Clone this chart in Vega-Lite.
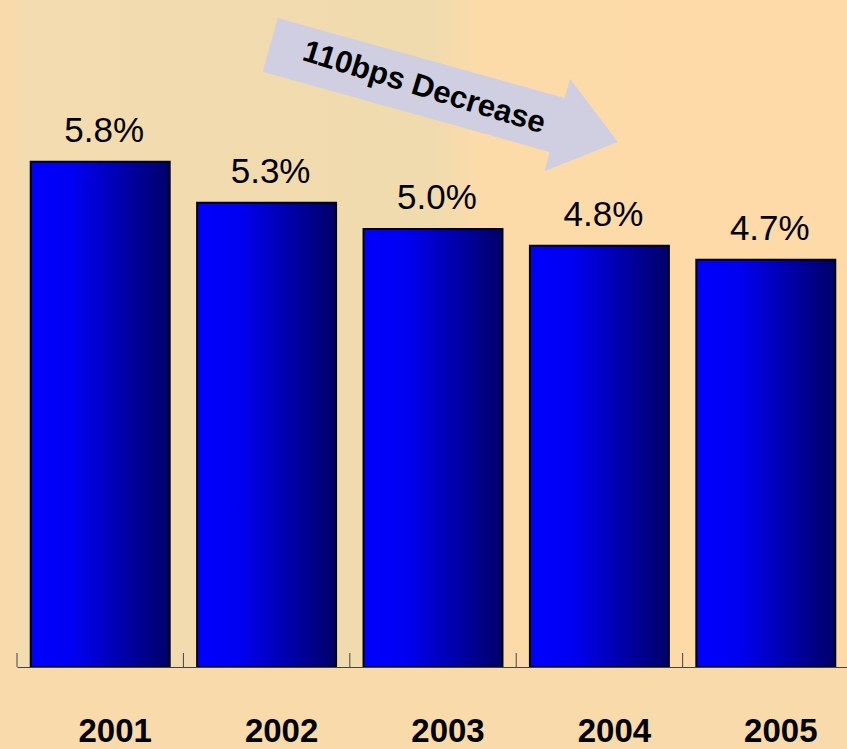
{
  "$schema": "https://vega.github.io/schema/vega-lite/v6.json",
  "width": 832,
  "height": 667,
  "autosize": {"type": "none"},
  "padding": {"left": 17, "top": 0, "right": 0, "bottom": 82},
  "background": "#F8DAAB",
  "config": {
    "font": "Liberation Sans",
    "view": {
      "stroke": null,
      "fill": {
        "gradient": "linear",
        "x1": 0, "y1": 0, "x2": 1, "y2": 0,
        "stops": [
          {"offset": 0, "color": "#F3DCAF"},
          {"offset": 0.5, "color": "#F0DBAE"},
          {"offset": 0.56, "color": "#FDDBA9"},
          {"offset": 1, "color": "#FDDAA8"}
        ]
      }
    }
  },
  "data": {
    "values": [
      {"year": "2001", "rate": 0.0578},
      {"year": "2002", "rate": 0.0531},
      {"year": "2003", "rate": 0.0501},
      {"year": "2004", "rate": 0.0482},
      {"year": "2005", "rate": 0.0466}
    ]
  },
  "encoding": {
    "x": {
      "field": "year",
      "type": "ordinal",
      "scale": {"paddingInner": 0.165, "paddingOuter": 0.0825},
      "axis": {
        "title": null,
        "domainColor": "#444444",
        "domainWidth": 1,
        "ticks": false,
        "zindex": 1,
        "labelFont": "Liberation Sans",
        "labelFontSize": 33,
        "labelFontWeight": "bold",
        "labelColor": "#000000",
        "labelAngle": 0,
        "labelBaseline": "alphabetic",
        "labelPadding": 74,
        "labelOffset": 15
      }
    }
  },
  "layer": [
    {
      "mark": {
        "type": "bar",
        "fill": {
          "gradient": "linear",
          "x1": 0, "y1": 0, "x2": 1, "y2": 0,
          "stops": [
            {"offset": 0, "color": "#0000FF"},
            {"offset": 0.3, "color": "#0000F2"},
            {"offset": 1, "color": "#000068"}
          ]
        },
        "stroke": "#000000",
        "strokeWidth": 2
      },
      "encoding": {
        "y": {
          "field": "rate",
          "type": "quantitative",
          "scale": {"domain": [0, 0.0763], "nice": false},
          "axis": null
        }
      }
    },
    {
      "mark": {"type": "rule", "color": "#444444", "strokeWidth": 1, "xOffset": -13.7},
      "encoding": {
        "x": {"field": "year", "type": "ordinal", "bandPosition": 0},
        "y": {"datum": 0},
        "y2": {"datum": 0.0016}
      }
    },
    {
      "mark": {
        "type": "text",
        "fontSize": 35,
        "font": "Liberation Sans",
        "color": "#000000",
        "baseline": "alphabetic",
        "dy": -20,
        "dx": 4
      },
      "encoding": {
        "y": {"field": "rate", "type": "quantitative"},
        "text": {"field": "rate", "type": "quantitative", "format": ".1%"}
      }
    },
    {
      "data": {"values": [{"note": "110bps Decrease"}]},
      "mark": {
        "type": "point",
        "shape": "M-1,-0.155L0.651,-0.155L0.651,-0.266L1,0L0.651,0.266L0.651,0.155L-1,0.155Z",
        "size": 130321,
        "filled": true,
        "fill": "#CFCFE1",
        "opacity": 1,
        "strokeWidth": 0,
        "angle": 15.6,
        "xOffset": 11
      },
      "encoding": {
        "x": {"datum": "2003"},
        "y": {"datum": 0.06562}
      }
    },
    {
      "data": {"values": [{"note": "110bps Decrease"}]},
      "mark": {
        "type": "text",
        "fontSize": 31,
        "fontWeight": "bold",
        "font": "Liberation Sans",
        "color": "#000000",
        "align": "center",
        "baseline": "middle",
        "angle": 17,
        "xOffset": -9
      },
      "encoding": {
        "x": {"datum": "2003"},
        "y": {"datum": 0.06623},
        "text": {"field": "note"}
      }
    }
  ]
}
